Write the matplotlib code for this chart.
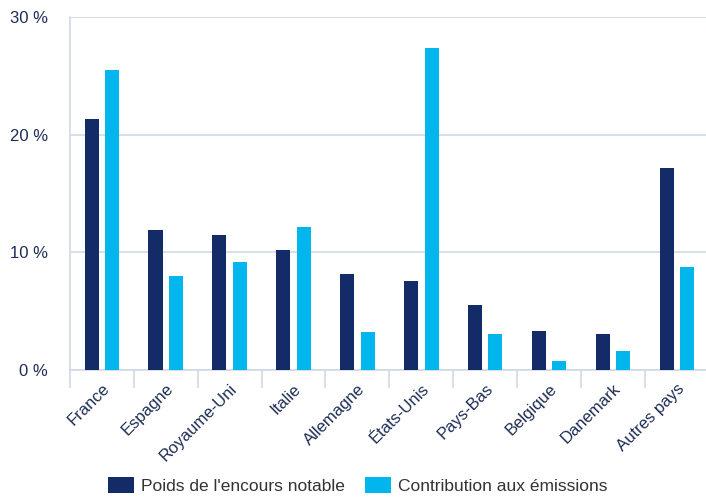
import matplotlib.pyplot as plt
import numpy as np

pays = ["France", "Espagne", "Royaume-Uni", "Italie", "Allemagne",
        "États-Unis", "Pays-Bas", "Belgique", "Danemark", "Autres pays"]
poids_encours = [21.3, 11.9, 11.5, 10.2, 8.2, 7.6, 5.5, 3.3, 3.1, 17.2]
contrib_emissions = [25.5, 8.0, 9.2, 12.2, 3.2, 27.4, 3.1, 0.8, 1.6, 8.8]

navy = "#132b66"
cyan = "#00b6ec"
grid_col = "#cfd9e8"
text_col = "#1e2d55"

plt.rcParams['font.family'] = ['Liberation Sans', 'DejaVu Sans']

fig = plt.figure(figsize=(7.06, 4.97), dpi=100)
ax = fig.add_axes([0.099, 0.2555, 0.905, 0.71])

x = np.arange(len(pays))
w = 0.22
ax.bar(x - 0.16, poids_encours, w, color=navy, label="Poids de l'encours notable", zorder=3)
ax.bar(x + 0.16, contrib_emissions, w, color=cyan, label="Contribution aux émissions", zorder=3)

ax.set_xlim(-0.5, len(pays) - 0.5)
ax.set_ylim(0, 30)
ax.set_yticks([0, 10, 20, 30])
ax.set_yticklabels(["0 %", "10 %", "20 %", "30 %"])
ax.yaxis.grid(True, color=grid_col, linewidth=1.2, zorder=0)
ax.tick_params(axis='y', length=0, pad=16, labelsize=12, labelcolor=text_col)

# category separators below the axis
ax.set_xticks(np.arange(-0.5, len(pays), 1.0))
ax.set_xticklabels([])
ax.tick_params(axis='x', which='major', length=13, width=1.2, color=grid_col)
ax.set_xticks(x, minor=True)
ax.set_xticklabels(pays, minor=True, rotation=45, ha='right', rotation_mode='anchor',
                   fontsize=12, color=text_col)
ax.tick_params(axis='x', which='minor', length=0, pad=8)

for s in ['top', 'right']:
    ax.spines[s].set_visible(False)
ax.spines['left'].set_color(grid_col)
ax.spines['left'].set_linewidth(1.2)
ax.spines['bottom'].set_color(grid_col)
ax.spines['bottom'].set_linewidth(1.2)

fig.legend(loc='lower center', bbox_to_anchor=(0.507, -0.025), ncol=2, frameon=False,
           fontsize=12.5, handlelength=1.5, handleheight=1.1, handletextpad=0.4,
           columnspacing=1.15, labelcolor="#333333")

fig.savefig("out.png", dpi=100)
